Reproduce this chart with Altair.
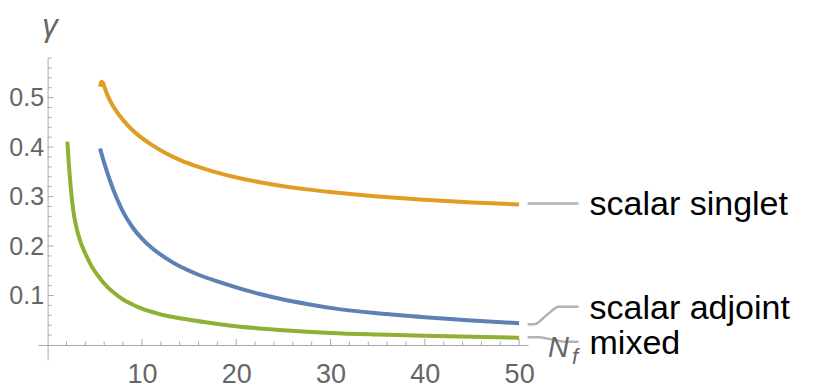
import altair as alt
import pandas as pd

# ---- data ----
series_names = ["scalar singlet", "scalar adjoint", "mixed"]
series_colors = ["#E19C24", "#5E81B5", "#8FB032"]

n_singlet = [5.56, 5.69, 5.85, 6.2, 6.62, 7.3, 8.03, 8.9, 9.8, 11.0, 12.5, 14.0, 15.5, 17.5,
             20.4, 22.5, 25.0, 27.5, 30.0, 35.0, 40.0, 45.0, 50.0]
g_singlet = [0.522, 0.532, 0.530, 0.512, 0.494, 0.472, 0.454, 0.436, 0.421, 0.405, 0.388,
             0.374, 0.363, 0.351, 0.337, 0.329, 0.321, 0.3145, 0.309, 0.300, 0.2935, 0.288,
             0.284]

n_adjoint = [5.56, 6.0, 6.6, 7.3, 8.0, 9.0, 10.0, 11.0, 12.5, 14.0, 16.0, 18.0, 20.0,
             22.5, 25.0, 27.5, 30.0, 35.0, 40.0, 45.0, 50.0]
g_adjoint = [0.397, 0.368, 0.333, 0.298, 0.269, 0.238, 0.215, 0.197, 0.176, 0.159, 0.142,
             0.1285, 0.1165, 0.103, 0.092, 0.083, 0.075, 0.064, 0.056, 0.0495, 0.044]

n_mixed = [2.09, 2.25, 2.4, 2.6, 2.8, 3.1, 3.5, 4.0, 4.5, 5.0, 5.5, 6.3, 7.0, 8.0, 9.0,
           10.0, 11.5, 13.0, 15.0, 17.5, 20.0, 22.5, 25.0, 27.5, 30.0, 35.0, 40.0, 45.0, 50.0]
g_mixed = [0.411, 0.365, 0.330, 0.290, 0.262, 0.234, 0.208, 0.185, 0.165, 0.149, 0.136,
           0.118, 0.106, 0.092, 0.082, 0.0735, 0.0645, 0.0577, 0.051, 0.044, 0.038, 0.0335,
           0.0298, 0.0268, 0.0244, 0.0212, 0.0187, 0.0166, 0.0148]

x_major = [10, 20, 30, 40, 50]
x_minor = [2, 4, 6, 8, 12, 14, 16, 18, 22, 24, 26, 28, 32, 34, 36, 38, 42, 44, 46, 48]
y_major = [0.1, 0.2, 0.3, 0.4, 0.5]
y_minor = [0.02, 0.04, 0.06, 0.08, 0.12, 0.14, 0.16, 0.18, 0.22, 0.24, 0.26, 0.28,
           0.32, 0.34, 0.36, 0.38, 0.42, 0.44, 0.46, 0.48, 0.52, 0.54, 0.56, 0.58]

# callout (leader) lines: from curve end to label
lead_singlet_n = [50.9, 56.3]
lead_singlet_g = [0.286, 0.286]
lead_adjoint_n = [50.9, 51.6, 52.9, 54.2, 56.3]
lead_adjoint_g = [0.042, 0.042, 0.060, 0.0774, 0.0774]
lead_mixed_n = [50.9, 52.0, 53.5, 55.0, 56.3]
lead_mixed_g = [0.0155, 0.0155, 0.011, 0.0067, 0.0067]

# axis label anchors (data coordinates)
gamma_label_pos = (0.25, 0.624)
nf_N_pos = (53.07, -0.0236)
nf_f_pos = (55.6, -0.038)

# ---- build tables ----
curves = pd.concat([
    pd.DataFrame({"N": n_singlet, "gamma": g_singlet, "series": series_names[0]}),
    pd.DataFrame({"N": n_adjoint, "gamma": g_adjoint, "series": series_names[1]}),
    pd.DataFrame({"N": n_mixed, "gamma": g_mixed, "series": series_names[2]}),
])
leaders = pd.concat([
    pd.DataFrame({"N": lead_singlet_n, "gamma": lead_singlet_g, "series": series_names[0]}),
    pd.DataFrame({"N": lead_adjoint_n, "gamma": lead_adjoint_g, "series": series_names[1]}),
    pd.DataFrame({"N": lead_mixed_n, "gamma": lead_mixed_g, "series": series_names[2]}),
])
labels = pd.DataFrame({
    "N": [lead_singlet_n[-1], lead_adjoint_n[-1], lead_mixed_n[-1]],
    "gamma": [lead_singlet_g[-1], lead_adjoint_g[-1], lead_mixed_g[-1]],
    "text": series_names,
})

FONT = "Liberation Sans"
AX = "#aaaaaa"
TXT = "#666666"

xs = alt.Scale(domain=[-1.02, 50.94], nice=False, zero=False)
ys = alt.Scale(domain=[-0.0303, 0.580], nice=False, zero=False)

xaxis = alt.Axis(values=x_major, ticks=False, grid=False, title=None, domainColor=AX,
                 domainWidth=1, labelFontSize=27, labelColor=TXT, labelFont=FONT,
                 labelPadding=16, offset=-15, labelFlush=False, labelOverlap=False)
yaxis = alt.Axis(values=y_major, format=".1f", ticks=False, grid=False, title=None,
                 domainColor=AX, domainWidth=1, labelFontSize=25, labelColor=TXT,
                 labelFont=FONT, labelPadding=4, offset=-9.6, labelOverlap=False)

X = alt.X("N:Q", scale=xs, axis=xaxis)
Y = alt.Y("gamma:Q", scale=ys, axis=yaxis)

color = alt.Color("series:N", scale=alt.Scale(domain=series_names, range=series_colors),
                  legend=None)

lines = alt.Chart(curves).mark_line(strokeWidth=4, interpolate="monotone").encode(
    x=X, y=Y, color=color, detail="series:N")

xt_major = alt.Chart(pd.DataFrame({"N": x_major, "gamma": 0.0})).mark_tick(
    orient="vertical", size=6, thickness=1, yOffset=-3, color=AX, opacity=1).encode(x=X, y=Y)
xt_minor = alt.Chart(pd.DataFrame({"N": x_minor, "gamma": 0.0})).mark_tick(
    orient="vertical", size=3.5, thickness=1, yOffset=-1.75, color=AX, opacity=1).encode(x=X, y=Y)
yt_major = alt.Chart(pd.DataFrame({"N": 0.0, "gamma": y_major})).mark_tick(
    orient="horizontal", size=6, thickness=1, xOffset=3, color=AX, opacity=1).encode(x=X, y=Y)
yt_minor = alt.Chart(pd.DataFrame({"N": 0.0, "gamma": y_minor})).mark_tick(
    orient="horizontal", size=4, thickness=1, xOffset=2, color=AX, opacity=1).encode(x=X, y=Y)

lead = alt.Chart(leaders).mark_line(color="#b3b3b3", strokeWidth=2.5,
                                    interpolate="monotone").encode(x=X, y=Y, detail="series:N")

lab = alt.Chart(labels).mark_text(align="left", baseline="middle", fontSize=34, font=FONT,
                                  color="black", dx=11, dy=2).encode(x=X, y=Y, text="text:N")

gam = alt.Chart(pd.DataFrame({"N": [gamma_label_pos[0]], "gamma": [gamma_label_pos[1]],
                              "t": ["γ"]})).mark_text(
    align="center", baseline="alphabetic", fontSize=31, font=FONT, fontStyle="italic",
    color=TXT).encode(x=X, y=Y, text="t:N")
nN = alt.Chart(pd.DataFrame({"N": [nf_N_pos[0]], "gamma": [nf_N_pos[1]], "t": ["N"]})).mark_text(
    align="left", baseline="alphabetic", fontSize=29, font=FONT, fontStyle="italic",
    color=TXT).encode(x=X, y=Y, text="t:N")
nf = alt.Chart(pd.DataFrame({"N": [nf_f_pos[0]], "gamma": [nf_f_pos[1]], "t": ["f"]})).mark_text(
    align="left", baseline="alphabetic", fontSize=22, font=FONT, fontStyle="italic",
    color=TXT).encode(x=X, y=Y, text="t:N")

chart = alt.layer(lead, lines, xt_major, xt_minor, yt_major, yt_minor, lab, gam, nN, nf).properties(
    width=490, height=302,
    autosize=alt.AutoSizeParams(type="none"),
    padding={"left": 30, "top": 50, "right": 294, "bottom": 30},
).configure_view(stroke=None)

chart.save("out.html", embed_options={"renderer": "svg", "actions": False})
